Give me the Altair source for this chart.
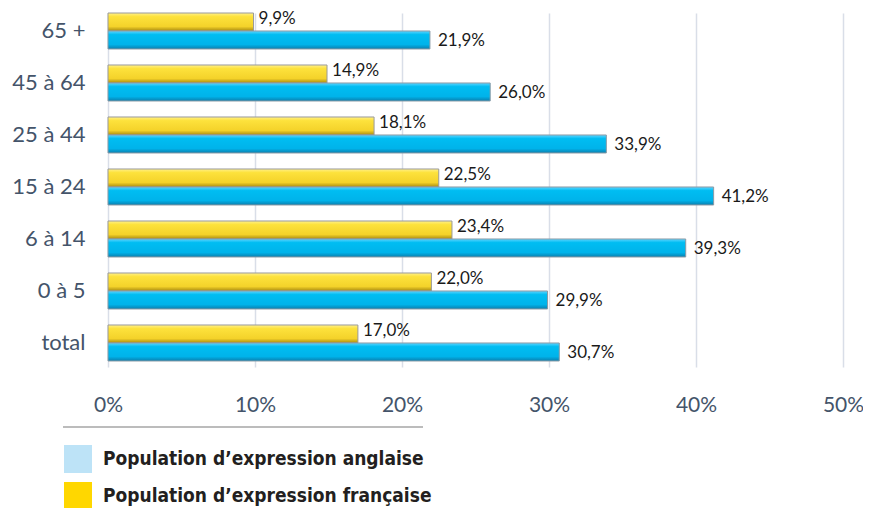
import altair as alt
import pandas as pd

categories = ["65 +", "45 à 64", "25 à 44", "15 à 24", "6 à 14", "0 à 5", "total"]
anglaise = [21.9, 26.0, 33.9, 41.2, 39.3, 29.9, 30.7]
francaise = [9.9, 14.9, 18.1, 22.5, 23.4, 22.0, 17.0]
series = ["Population d\u2019expression anglaise", "Population d\u2019expression française"]
x_ticks = [0, 10, 20, 30, 40, 50]

rows = []
for c, a, f in zip(categories, anglaise, francaise):
    rows.append({"cat": c, "series": series[1], "order": 0, "v": f})
    rows.append({"cat": c, "series": series[0], "order": 1, "v": a})
df = pd.DataFrame(rows)

base = alt.Chart(df).transform_calculate(
    label="replace(format(datum.v, '.1f'), '.', ',') + '%'"
)

y_enc = alt.Y("cat:N", sort=categories, title=None,
              scale=alt.Scale(paddingInner=0.3077, paddingOuter=0.0577, align=0),
              axis=alt.Axis(ticks=False, domain=False, labelPadding=23, labelFontSize=22,
                            labelColor="#44546a", labelFont="Lato", labelFontWeight="normal"))
x_enc = alt.X("v:Q", title=None,
              scale=alt.Scale(domain=[0, 50], nice=False),
              axis=alt.Axis(values=x_ticks, labelExpr="datum.value + '%'", ticks=False, domain=False,
                            grid=True, gridColor="#d9dee8", gridWidth=1.5, labelPadding=27,
                            labelFlush=False,
                            labelFontSize=21, labelColor="#44546a", labelFont="Lato"))
yoff = alt.YOffset("order:O", scale=alt.Scale(paddingInner=0, paddingOuter=0), title=None)

grad_yellow = alt.Gradient(gradient="linear", x1=0, y1=0, x2=0, y2=1, stops=[
    alt.GradientStop(offset=0, color="#fff08a"),
    alt.GradientStop(offset=0.2, color="#fde23c"),
    alt.GradientStop(offset=0.75, color="#f4d22a"),
    alt.GradientStop(offset=1, color="#a88a10"),
])
grad_blue = alt.Gradient(gradient="linear", x1=0, y1=0, x2=0, y2=1, stops=[
    alt.GradientStop(offset=0, color="#5fd4ff"),
    alt.GradientStop(offset=0.2, color="#00bdf2"),
    alt.GradientStop(offset=0.75, color="#00b3ea"),
    alt.GradientStop(offset=1, color="#0a7fae"),
])

bars_f = base.transform_filter(alt.datum.order == 0).mark_bar(
    color=grad_yellow, stroke="#9a9a9a", strokeWidth=1
).encode(y=y_enc, x=x_enc, yOffset=yoff)
bars_a = base.transform_filter(alt.datum.order == 1).mark_bar(
    color=grad_blue, stroke="#8a9aa5", strokeWidth=1
).encode(y=y_enc, x=x_enc, yOffset=yoff)

txt_f = base.transform_filter(alt.datum.order == 0).mark_text(
    align="left", baseline="middle", dx=5, dy=-3, fontSize=17, font="Lato", color="#1a1a1a"
).encode(y=y_enc, x=x_enc, yOffset=yoff, text="label:N")
txt_a = base.transform_filter(alt.datum.order == 1).mark_text(
    align="left", baseline="middle", dx=8, dy=1, fontSize=17, font="Lato", color="#1a1a1a"
).encode(y=y_enc, x=x_enc, yOffset=yoff, text="label:N")

legend_layer = base.mark_square(size=0, opacity=1).encode(
    y=y_enc, x=x_enc,
    color=alt.Color("series:N", sort=series,
                    scale=alt.Scale(domain=series, range=["#bde3f7", "#ffd700"]),
                    legend=alt.Legend(title=None, orient="none", legendX=-44, legendY=432,
                                      symbolType="square", symbolSize=784, symbolOpacity=1,
                                      symbolStrokeWidth=0,
                                      labelFont="DejaVu Sans Condensed", labelFontWeight="bold",
                                      labelFontSize=19, labelColor="#231f20", labelOffset=11,
                                      rowPadding=9, labelLimit=500))
)

sep = alt.Chart(pd.DataFrame({"a": [0]})).mark_rule(color="#a6a6a6", strokeWidth=1.5).encode(
    x=alt.value(-45), x2=alt.value(315), y=alt.value(414)
)

chart = alt.layer(bars_f, bars_a, txt_f, txt_a, legend_layer, sep).properties(
    width=735, height=354,
    autosize=alt.AutoSizeParams(type="none"),
    padding={"left": 100, "top": 5, "right": 20, "bottom": 141},
    background="white",
).configure_view(stroke=None)

chart.save("out.html", embed_options={"renderer": "svg", "actions": False})
